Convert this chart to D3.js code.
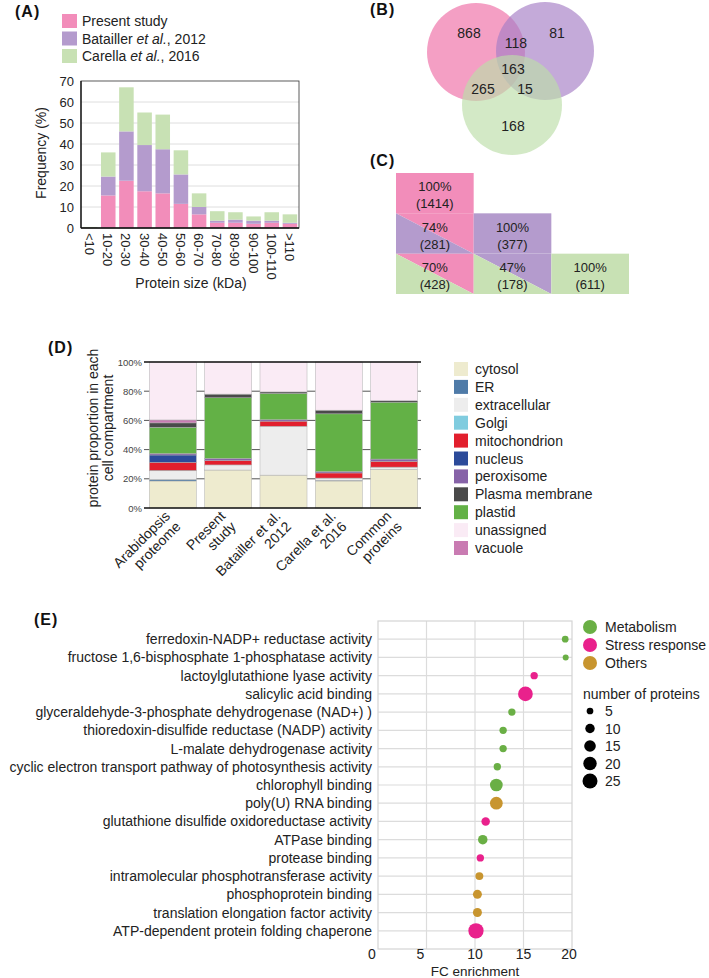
<!DOCTYPE html>
<html>
<head>
<meta charset="utf-8">
<script src="https://cdn.jsdelivr.net/npm/d3@7"></script>
<style>
body { margin: 0; background: #fff; }
svg { display: block; font-family: "Liberation Sans", Arial, Helvetica, sans-serif; }
</style>
</head>
<body>
<script>
// ---------- data ----------
// (A) protein size distribution (%)
const sizeBins = ['<10', '10-20', '20-30', '30-40', '40-50', '50-60', '60-70', '70-80', '80-90', '90-100', '100-110', '>110'];
const presentFreq = [0, 15.5, 22.5, 17.5, 16.5, 11.5, 6.5, 2.5, 2.5, 2, 2.5, 2];
const batailFreq = [0, 9, 23.5, 22, 21, 14, 3.5, 1, 1.5, 1.5, 1, 0.5];
const carellaFreq = [0.5, 11.5, 21, 15.5, 16.5, 11.5, 6.5, 4.5, 3.5, 2, 4, 4];
const studyNames = ['Present study', 'Batailler', 'Carella'];
const studyColors = ['#F28DBA', '#B49BCD', '#C8E1B4'];

// (B) Venn counts
const vennLabels = ['868', '118', '81', '163', '265', '15', '168'];

// (C) pairwise overlap
const overlapPct = [[100], [74, 100], [70, 47, 100]];
const overlapN = [[1414], [281, 377], [428, 178, 611]];

// (D) subcellular localisation (%)
const dGroups = [['Arabidopsis', 'proteome'], ['Present', 'study'], ['Batailler et al.', '2012'], ['Carella et al.', '2016'], ['Common', 'proteins']];
const compartments = ['cytosol', 'ER', 'extracellular', 'Golgi', 'mitochondrion', 'nucleus', 'peroxisome', 'Plasma membrane', 'plastid', 'unassigned', 'vacuole'];
const compColors = ['#EEEBCF', '#4F7BA8', '#EDEDED', '#80CCDF', '#E21F2D', '#2C4B9A', '#8763A8', '#4A4A4A', '#63B146', '#FAEBF5', '#C97BB2'];
const stackOrder = ['cytosol', 'ER', 'extracellular', 'Golgi', 'mitochondrion', 'nucleus', 'peroxisome', 'plastid', 'Plasma membrane', 'vacuole', 'unassigned'];
const cytosolPct = [18.5, 26, 22.5, 18.5, 26.5];
const erPct = [1, 0, 0, 0.5, 0];
const extracellularPct = [6, 3.5, 33.5, 1.5, 1.5];
const golgiPct = [0.3, 0, 0, 0, 0];
const mitoPct = [5.5, 3, 3.5, 3.5, 4];
const nucleusPct = [5, 0, 0, 0, 0];
const peroxPct = [1, 1.5, 1, 1, 1.5];
const plastidPct = [18, 41.5, 18, 39.5, 39];
const pmPct = [3, 2.5, 1, 2.5, 1];
const vacuolePct = [2, 0, 0, 0, 0];
const unassignedPct = [39.7, 22, 20.5, 33, 26.5];

// (E) GO enrichment
const goTerms = ['ferredoxin-NADP+ reductase activity', 'fructose 1,6-bisphosphate 1-phosphatase activity', 'lactoylglutathione lyase activity', 'salicylic acid binding', 'glyceraldehyde-3-phosphate dehydrogenase (NAD+) )', 'thioredoxin-disulfide reductase (NADP) activity', 'L-malate dehydrogenase activity', 'cyclic electron transport pathway of photosynthesis activity', 'chlorophyll binding', 'poly(U) RNA binding', 'glutathione disulfide oxidoreductase activity', 'ATPase binding', 'protease binding', 'intramolecular phosphotransferase activity', 'phosphoprotein binding', 'translation elongation factor activity', 'ATP-dependent protein folding chaperone'];
const goFC = [19.3, 19.35, 16.1, 15.2, 13.8, 12.9, 12.9, 12.3, 12.2, 12.2, 11.1, 10.8, 10.55, 10.45, 10.25, 10.25, 10.1];
const goGroup = ['Metabolism', 'Metabolism', 'Stress response', 'Stress response', 'Metabolism', 'Metabolism', 'Metabolism', 'Metabolism', 'Metabolism', 'Others', 'Stress response', 'Metabolism', 'Stress response', 'Others', 'Others', 'Others', 'Stress response'];
const goCount = [5, 4, 6, 24, 6, 6, 6, 6, 18, 18, 8, 10, 6, 7, 9, 9, 26];
const goGroups = ['Metabolism', 'Stress response', 'Others'];
const goColors = ['#6AAF45', '#E9218C', '#C8952F'];
const sizeLegend = [5, 10, 15, 20, 25];
const fcTicks = [0, 5, 10, 15, 20];

// ---------- svg ----------
const svg = d3.select('body').append('svg')
	.attr('width', 709)
	.attr('height', 978);

function panelLabel(t, x, y) {
	svg.append('text')
		.attr('x', x).attr('y', y)
		.attr('font-size', 16).attr('font-weight', 'bold')
		.attr('letter-spacing', 1)
		.attr('fill', '#111')
		.text(t);
}

// ================= (A) =================
panelLabel('(A)', 15, 17);

const aX = d3.scaleBand().domain(sizeBins).range([81, 299]).paddingInner(0.2).paddingOuter(0.1);
const aY = d3.scaleLinear().domain([0, 70]).range([228, 81]);
const aG = svg.append('g');

// gridlines
aG.selectAll('.grid').data(d3.range(10, 70, 10)).enter().append('line')
	.attr('x1', 81).attr('x2', 299)
	.attr('y1', d => aY(d)).attr('y2', d => aY(d))
	.attr('stroke', '#dedede');

const aRows = sizeBins.map((b, i) => ({bin: b, s0: presentFreq[i], s1: batailFreq[i], s2: carellaFreq[i]}));
const aStack = d3.stack().keys(['s0', 's1', 's2'])(aRows);
aG.selectAll('.ser').data(aStack).enter().append('g')
	.attr('fill', (d, i) => studyColors[i])
	.selectAll('rect').data(d => d).enter().append('rect')
	.attr('x', d => aX(d.data.bin))
	.attr('width', aX.bandwidth())
	.attr('y', d => aY(d[1]))
	.attr('height', d => aY(d[0]) - aY(d[1]));

// frame
aG.append('rect').attr('x', 81).attr('y', 81).attr('width', 218).attr('height', 147)
	.attr('fill', 'none').attr('stroke', '#333').attr('stroke-width', 0.8);
aG.append('line').attr('x1', 81).attr('x2', 81).attr('y1', 81).attr('y2', 228).attr('stroke', '#111').attr('stroke-width', 1.3);
aG.append('line').attr('x1', 81).attr('x2', 299).attr('y1', 228).attr('y2', 228).attr('stroke', '#111').attr('stroke-width', 1.3);

aG.append('g').attr('transform', 'translate(81,0)')
	.call(d3.axisLeft(aY).tickValues(d3.range(0, 71, 10)).tickSize(0).tickPadding(7))
	.call(g => g.select('.domain').remove())
	.call(g => g.selectAll('text').attr('font-size', 13).attr('fill', '#222').attr('font-family', null));

aG.selectAll('.xl').data(sizeBins).enter().append('text')
	.attr('transform', d => `translate(${aX(d) + aX.bandwidth() / 2 - 5},233) rotate(90)`)
	.attr('font-size', 13).attr('fill', '#222')
	.text(d => d);

aG.append('text').attr('transform', 'translate(46,153) rotate(-90)')
	.attr('text-anchor', 'middle').attr('font-size', 14).attr('fill', '#222')
	.text('Frequency (%)');
aG.append('text').attr('x', 191).attr('y', 288)
	.attr('text-anchor', 'middle').attr('font-size', 14).attr('fill', '#222')
	.text('Protein size (kDa)');

// legend
const aLeg = [
	['Present study'],
	['Batailler ', 'et al.', ', 2012'],
	['Carella ', 'et al.', ', 2016']
];
aLeg.forEach((parts, i) => {
	const y = 21 + i * 17.5;
	aG.append('rect').attr('x', 62).attr('y', y - 7).attr('width', 15).attr('height', 14).attr('fill', studyColors[i]);
	const t = aG.append('text').attr('x', 82).attr('y', y + 5).attr('font-size', 14).attr('fill', '#222');
	parts.forEach((p, j) => t.append('tspan').attr('font-style', j === 1 ? 'italic' : null).text(p));
});

// ================= (B) =================
panelLabel('(B)', 370, 15);
const vennCircles = [
	{cx: 476, cy: 52, r: 49},
	{cx: 545, cy: 51, r: 49},
	{cx: 512, cy: 105, r: 50}
];
const vennFill = ['#EF6EA6', '#A57EC6', '#BCDDA8'];
svg.append('g').selectAll('circle').data(vennCircles).enter().append('circle')
	.attr('cx', d => d.cx).attr('cy', d => d.cy).attr('r', d => d.r)
	.attr('fill', (d, i) => vennFill[i])
	.attr('fill-opacity', 0.66);
const vennPos = [[469, 33], [516, 43], [557, 33], [513, 69], [483, 89], [525, 89], [513, 126]];
svg.append('g').selectAll('text').data(vennLabels).enter().append('text')
	.attr('x', (d, i) => vennPos[i][0]).attr('y', (d, i) => vennPos[i][1] + 5)
	.attr('text-anchor', 'middle').attr('font-size', 14).attr('fill', '#222')
	.text(d => d);

// ================= (C) =================
panelLabel('(C)', 370, 166);
const cCol = d3.scaleBand().domain([0, 1, 2]).range([396, 629]);
const cRow = d3.scaleBand().domain([0, 1, 2]).range([173, 294]);
const cG = svg.append('g');
overlapPct.forEach((row, r) => {
	row.forEach((v, c) => {
		const x0 = cCol(c), x1 = x0 + cCol.bandwidth();
		const y0 = cRow(r), y1 = y0 + cRow.bandwidth();
		if (r === c) {
			cG.append('rect').attr('x', x0).attr('y', y0).attr('width', x1 - x0).attr('height', y1 - y0).attr('fill', studyColors[r]);
		} else {
			// upper-right triangle = column set, lower-left = row set
			cG.append('path').attr('d', `M${x0},${y0}L${x1},${y0}L${x1},${y1}Z`).attr('fill', studyColors[c]);
			cG.append('path').attr('d', `M${x0},${y0}L${x1},${y1}L${x0},${y1}Z`).attr('fill', studyColors[r]);
		}
		const cx = (x0 + x1) / 2, cy = (y0 + y1) / 2;
		cG.append('text').attr('x', cx).attr('y', cy - 2).attr('text-anchor', 'middle')
			.attr('font-size', 13).attr('fill', '#222').text(v + '%');
		cG.append('text').attr('x', cx).attr('y', cy + 15).attr('text-anchor', 'middle')
			.attr('font-size', 13).attr('fill', '#222').text('(' + overlapN[r][c] + ')');
	});
});

// ================= (D) =================
panelLabel('(D)', 48, 353);
const dKeys = dGroups.map(d => d.join(' '));
const dX = d3.scaleBand().domain(dKeys).range([146, 421]).paddingInner(0.15).paddingOuter(0.06);
const dY = d3.scaleLinear().domain([0, 100]).range([508, 362]);
const dG = svg.append('g');
const dVals = {
	'cytosol': cytosolPct, 'ER': erPct, 'extracellular': extracellularPct, 'Golgi': golgiPct,
	'mitochondrion': mitoPct, 'nucleus': nucleusPct, 'peroxisome': peroxPct,
	'Plasma membrane': pmPct, 'plastid': plastidPct, 'unassigned': unassignedPct, 'vacuole': vacuolePct
};
const dRows = dKeys.map((k, i) => {
	const row = {group: k};
	compartments.forEach(c => { row[c] = dVals[c][i]; });
	return row;
});
const dColor = d3.scaleOrdinal().domain(compartments).range(compColors);

dG.selectAll('.grid').data([20, 40, 60, 80]).enter().append('line')
	.attr('x1', 144).attr('x2', 421)
	.attr('y1', d => dY(d)).attr('y2', d => dY(d))
	.attr('stroke', '#555').attr('stroke-width', 1);

const dStack = d3.stack().keys(stackOrder)(dRows);
dG.selectAll('.layer').data(dStack).enter().append('g')
	.attr('fill', d => dColor(d.key))
	.selectAll('rect').data(d => d.filter(s => s[1] - s[0] > 0)).enter().append('rect')
	.attr('x', d => dX(d.data.group))
	.attr('width', dX.bandwidth())
	.attr('y', d => dY(d[1]))
	.attr('height', d => dY(d[0]) - dY(d[1]))
	.attr('stroke', '#b0b0b0').attr('stroke-width', 0.5);

dG.selectAll('.edge').data([0, 100]).enter().append('line')
	.attr('x1', 144).attr('x2', 421)
	.attr('y1', d => dY(d)).attr('y2', d => dY(d))
	.attr('stroke', '#111').attr('stroke-width', 1.5);

dG.selectAll('.yl').data([0, 20, 40, 60, 80, 100]).enter().append('text')
	.attr('x', 142).attr('y', d => dY(d) + 3.5)
	.attr('text-anchor', 'end').attr('font-size', 9.5).attr('fill', '#444')
	.text(d => d + '%');

dGroups.forEach((lines, i) => {
	const cx = dX(dKeys[i]) + dX.bandwidth() / 2 - 2;
	const g = dG.append('g').attr('transform', `translate(${cx},517) rotate(-45)`);
	lines.forEach((l, j) => {
		g.append('text').attr('x', 0).attr('y', j * 15)
			.attr('text-anchor', 'end').attr('font-size', 14).attr('fill', '#222').text(l);
	});
});

dG.append('text').attr('transform', 'translate(98,428) rotate(-90)')
	.attr('text-anchor', 'middle').attr('font-size', 14).attr('fill', '#222')
	.text('protein proportion in each');
dG.append('text').attr('transform', 'translate(113,428) rotate(-90)')
	.attr('text-anchor', 'middle').attr('font-size', 14).attr('fill', '#222')
	.text('cell compartment');

// legend
compartments.forEach((c, i) => {
	const y = 369 + i * 17.9;
	dG.append('rect').attr('x', 454).attr('y', y - 7).attr('width', 14).attr('height', 14).attr('fill', dColor(c));
	dG.append('text').attr('x', 475).attr('y', y + 5).attr('font-size', 14).attr('fill', '#222').text(c);
});

// ================= (E) =================
panelLabel('(E)', 34, 625);
const eX = d3.scaleLinear().domain([0, 20]).range([378, 572]);
const eY = d3.scalePoint().domain(goTerms).range([621, 949]).padding(1);
const eR = d3.scaleSqrt().domain([0, 25]).range([0, 7.5]);
const eColor = d3.scaleOrdinal().domain(goGroups).range(goColors);
const eG = svg.append('g');

eG.selectAll('.vg').data([5, 10, 15]).enter().append('line')
	.attr('x1', d => eX(d)).attr('x2', d => eX(d))
	.attr('y1', 621).attr('y2', 949)
	.attr('stroke', '#dcdcdc').attr('stroke-width', 1.2);
eG.selectAll('.hg').data(goTerms).enter().append('line')
	.attr('x1', 378).attr('x2', 572)
	.attr('y1', d => eY(d)).attr('y2', d => eY(d))
	.attr('stroke', '#dcdcdc').attr('stroke-width', 1.2);
eG.append('rect').attr('x', 378).attr('y', 621).attr('width', 194).attr('height', 328)
	.attr('fill', 'none').attr('stroke', '#d4d4d4').attr('stroke-width', 1.2);

const eData = goTerms.map((t, i) => ({term: t, fc: goFC[i], group: goGroup[i], n: goCount[i]}));
eG.selectAll('circle').data(eData).enter().append('circle')
	.attr('cx', d => eX(d.fc)).attr('cy', d => eY(d.term))
	.attr('r', d => eR(d.n))
	.attr('fill', d => eColor(d.group));

eG.selectAll('.tl').data(goTerms).enter().append('text')
	.attr('x', 372).attr('y', d => eY(d) + 5)
	.attr('text-anchor', 'end').attr('font-size', 14).attr('fill', '#222')
	.text(d => d);

// tick labels sit slightly left of their gridlines in the original
const fcShift = [-6, -6, 0, 0, -3];
eG.selectAll('.xt').data(fcTicks).enter().append('text')
	.attr('x', (d, i) => eX(d) + fcShift[i]).attr('y', 959)
	.attr('text-anchor', 'middle').attr('font-size', 14).attr('fill', '#222')
	.text(d => d);
eG.append('text').attr('x', 475).attr('y', 975.5)
	.attr('text-anchor', 'middle').attr('font-size', 13.5).attr('fill', '#222')
	.text('FC enrichment');

// legends
goGroups.forEach((g, i) => {
	const y = 627 + i * 18;
	eG.append('circle').attr('cx', 590).attr('cy', y).attr('r', 7).attr('fill', eColor(g));
	eG.append('text').attr('x', 605).attr('y', y + 5).attr('font-size', 14).attr('fill', '#222').text(g);
});
eG.append('text').attr('x', 583).attr('y', 699).attr('font-size', 14).attr('fill', '#222').text('number of proteins');
sizeLegend.forEach((n, i) => {
	const y = 711 + i * 17.5;
	eG.append('circle').attr('cx', 590).attr('cy', y).attr('r', eR(n)).attr('fill', '#000');
	eG.append('text').attr('x', 605).attr('y', y + 5).attr('font-size', 14).attr('fill', '#222').text(n);
});
</script>
</body>
</html>
